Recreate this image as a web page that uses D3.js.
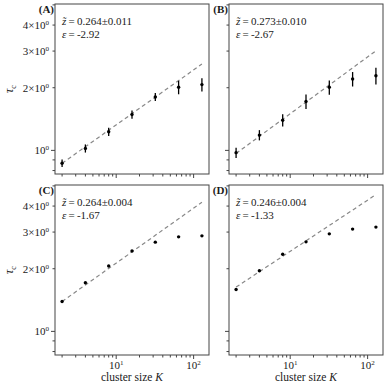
<!DOCTYPE html>
<html>
<head>
<meta charset="utf-8">
<script src="https://cdn.jsdelivr.net/npm/d3@7"></script>
<style>
  body { margin: 0; background: #fff; }
  svg text { font-family: 'Liberation Serif', 'DejaVu Serif', 'Times New Roman', serif; fill: #1a1a1a; }
</style>
</head>
<body>
<div id="chart"></div>
<script>
// data
const clusterSize = [2, 4, 8, 16, 32, 64, 128];
const tauA = [0.867, 1.022, 1.229, 1.486, 1.806, 2.009, 2.07];
const errA = [0.036, 0.046, 0.055, 0.067, 0.081, 0.149, 0.153];
const tauB = [0.975, 1.184, 1.396, 1.716, 2.009, 2.203, 2.285];
const errB = [0.055, 0.067, 0.095, 0.137, 0.16, 0.176, 0.21];
const tauC = [1.392, 1.712, 2.061, 2.435, 2.683, 2.845, 2.877];
const tauD = [1.590, 1.955, 2.347, 2.692, 2.942, 3.10, 3.17];
const panelNames = ['(A)', '(B)', '(C)', '(D)'];
const zText = ['0.264\u00b10.011', '0.273\u00b10.010', '0.264\u00b10.004', '0.246\u00b10.004'];
const epsText = ['-2.92', '-2.67', '-1.67', '-1.33'];
const fitExponent = [0.264, 0.273, 0.264, 0.246];
const fitPrefactor = [0.722, 0.800, 1.159, 1.376];
const yTicksLabeled = [1, 2, 3, 4];
const yTicksMinor = [0.8, 0.9, 5];
const xTicksMajor = [10, 100];
const xTicksMinor = [2, 3, 4, 5, 6, 7, 8, 9, 20, 30, 40, 50, 60, 70, 80, 90];

const series = [
    {tau: tauA, err: errA},
    {tau: tauB, err: errB},
    {tau: tauC, err: null},
    {tau: tauD, err: null}
];

// layout
const W = 390, H = 390;
const cols = [55, 229];
const rows = [4, 185];
const pw = 154, ph = 170;
const serif = "'Liberation Serif', 'DejaVu Serif', serif";

const svg = d3.select('#chart')
    .append('svg')
        .attr('width', W)
        .attr('height', H)
        .attr('font-family', serif);

const xScale = d3.scaleLog().domain([1.62, 158]).range([0, pw]);
const yScale = d3.scaleLog().domain([0.77, 5.05]).range([ph, 0]);

const axisColor = '#444';

// writes a×10^e style labels as text with a raised exponent
function powerLabel(sel, mant, exp) {
    sel.text(null);
    sel.append('tspan').text(mant ? mant + '\u00d710' : '10');
    sel.append('tspan').attr('dy', -4).attr('font-size', '7px').text(exp);
}

series.forEach((s, i) => {
    let col = i % 2, row = Math.floor(i / 2);
    let g = svg.append('g')
        .attr('transform', 'translate(' + cols[col] + ',' + rows[row] + ')');

    // frame
    g.append('rect')
        .attr('width', pw).attr('height', ph)
        .attr('fill', 'none')
        .attr('stroke', axisColor)
        .attr('stroke-width', 1);

    // y ticks
    let yMaj = g.append('g').selectAll('g')
        .data(yTicksLabeled)
        .join('g')
            .attr('transform', d => 'translate(0,' + yScale(d) + ')');
    yMaj.append('line')
        .attr('x1', d => d === 1 ? -4 : -2.5).attr('x2', 0)
        .attr('stroke', axisColor);
    if (col === 0) {
        yMaj.append('text')
            .attr('x', -6).attr('dy', '0.35em')
            .attr('text-anchor', 'end')
            .attr('font-size', '11px')
            .each(function(d) {
                powerLabel(d3.select(this), d === 1 ? '' : String(d), '0');
            });
    }
    g.append('g').selectAll('line')
        .data(yTicksMinor.filter(d => yScale(d) >= 0 && yScale(d) <= ph))
        .join('line')
            .attr('x1', -2.5).attr('x2', 0)
            .attr('y1', d => yScale(d)).attr('y2', d => yScale(d))
            .attr('stroke', axisColor);

    // x ticks
    g.append('g').selectAll('line')
        .data(xTicksMinor)
        .join('line')
            .attr('x1', d => xScale(d)).attr('x2', d => xScale(d))
            .attr('y1', ph).attr('y2', ph + 2.5)
            .attr('stroke', axisColor);
    let xMaj = g.append('g').selectAll('g')
        .data(xTicksMajor)
        .join('g')
            .attr('transform', d => 'translate(' + xScale(d) + ',' + ph + ')');
    xMaj.append('line')
        .attr('y1', 0).attr('y2', 4)
        .attr('stroke', axisColor);
    if (row === 1) {
        xMaj.append('text')
            .attr('y', 13.5)
            .attr('text-anchor', 'middle')
            .attr('font-size', '11px')
            .each(function(d) {
                powerLabel(d3.select(this), '', d === 10 ? '1' : '2');
            });
        g.append('text')
            .attr('x', pw / 2).attr('y', ph + 26)
            .attr('text-anchor', 'middle')
            .attr('font-size', '11.5px')
            .html('cluster size <tspan font-style="italic">K</tspan>');
    }

    // y axis title
    if (col === 0) {
        g.append('text')
            .attr('transform', 'translate(-42,' + (ph / 2) + ') rotate(-90)')
            .attr('text-anchor', 'middle')
            .attr('font-size', '12px')
            .html('<tspan font-style="italic">\u03c4</tspan><tspan dy="3" font-size="8px">c</tspan>');
    }

    // fitted power law
    let fit = clusterSize.map(k => [k, fitPrefactor[i] * Math.pow(k, fitExponent[i])]);
    g.append('path')
        .datum(fit)
        .attr('fill', 'none')
        .attr('stroke', '#888')
        .attr('stroke-width', 1.2)
        .attr('stroke-dasharray', '4,3')
        .attr('d', d3.line().x(d => xScale(d[0])).y(d => yScale(d[1])));

    // points
    let pts = clusterSize.map((k, j) => ({k: k, tau: s.tau[j], err: s.err ? s.err[j] : 0}));
    if (s.err) {
        g.append('g').selectAll('line')
            .data(pts)
            .join('line')
                .attr('x1', d => xScale(d.k)).attr('x2', d => xScale(d.k))
                .attr('y1', d => yScale(d.tau - d.err))
                .attr('y2', d => yScale(d.tau + d.err))
                .attr('stroke', '#000')
                .attr('stroke-width', 1.3);
    }
    g.append('g').selectAll('circle')
        .data(pts)
        .join('circle')
            .attr('cx', d => xScale(d.k))
            .attr('cy', d => yScale(d.tau))
            .attr('r', 1.7)
            .attr('fill', '#000');

    // panel letter
    g.append('text')
        .attr('x', -1).attr('y', 9)
        .attr('text-anchor', 'end')
        .attr('font-size', '11px')
        .attr('font-weight', 'bold')
        .text(panelNames[i]);

    // annotation
    g.append('text')
        .attr('x', 7).attr('y', 21)
        .attr('font-size', '11px')
        .html('<tspan font-style="italic">z\u0303</tspan>\u2009=\u20090' + zText[i].slice(1));
    g.append('text')
        .attr('x', 7).attr('y', 34)
        .attr('font-size', '11px')
        .html('<tspan font-style="italic">\u03b5</tspan>\u2009=\u2009' + epsText[i]);
});
</script>
</body>
</html>
